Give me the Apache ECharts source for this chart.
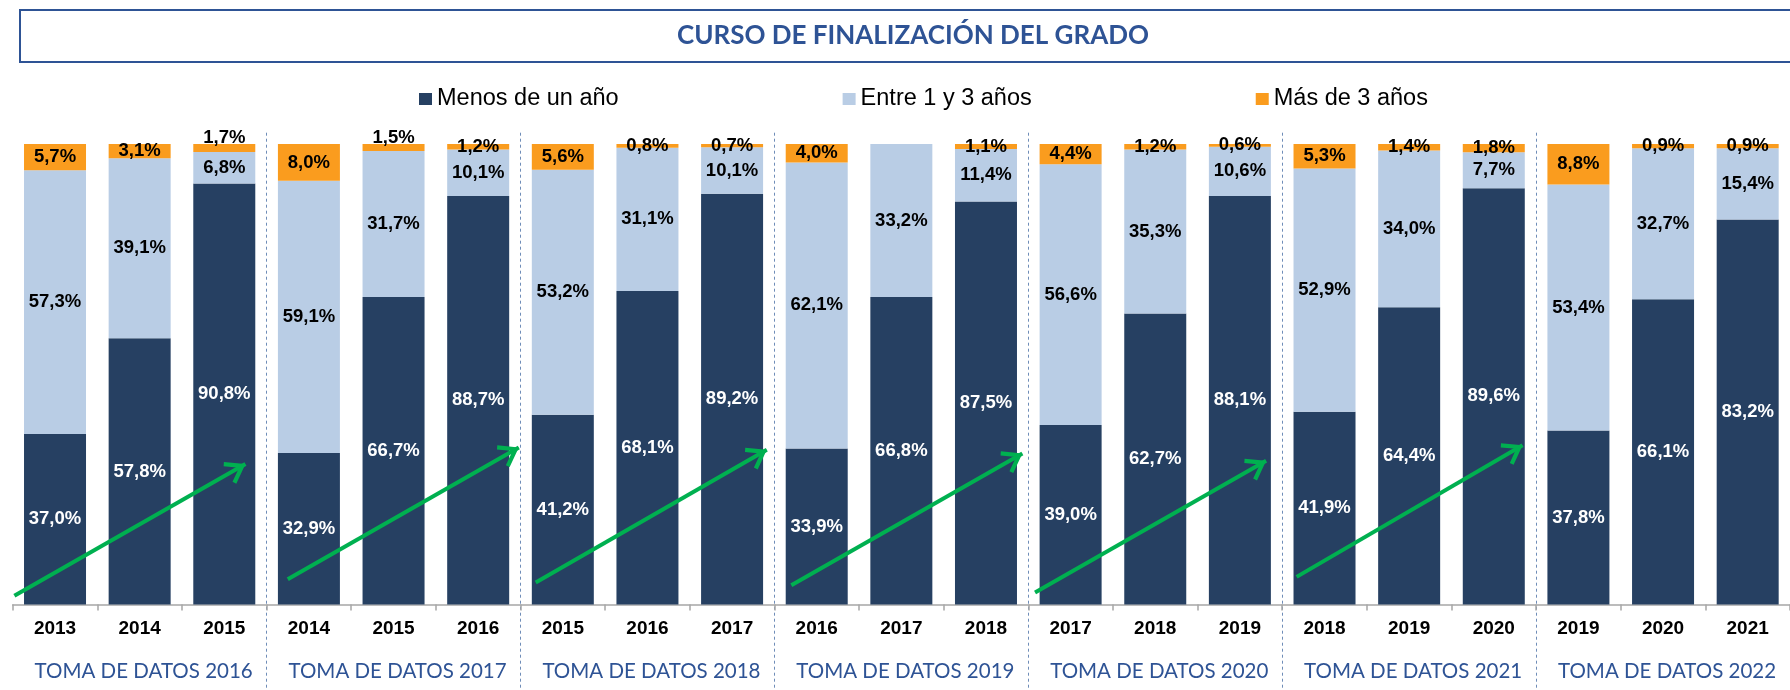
<!DOCTYPE html>
<html>
<head>
<meta charset="utf-8">
<script src="https://cdn.jsdelivr.net/npm/echarts@6/dist/echarts.min.js"></script>
<style>
html,body{margin:0;padding:0;background:#fff;}
#chart{width:1790px;height:690px;}
</style>
</head>
<body>
<div id="chart"></div>
<script>
const titleText = 'CURSO DE FINALIZACIÓN DEL GRADO';
const seriesNames = ['Menos de un año', 'Entre 1 y 3 años', 'Más de 3 años'];
const years = ['2013','2014','2015','2014','2015','2016','2015','2016','2017','2016','2017','2018','2017','2018','2019','2018','2019','2020','2019','2020','2021'];
const groups = ['TOMA DE DATOS 2016','TOMA DE DATOS 2017','TOMA DE DATOS 2018','TOMA DE DATOS 2019','TOMA DE DATOS 2020','TOMA DE DATOS 2021','TOMA DE DATOS 2022'];
const menos = [37.0,57.8,90.8,32.9,66.7,88.7,41.2,68.1,89.2,33.9,66.8,87.5,39.0,62.7,88.1,41.9,64.4,89.6,37.8,66.1,83.2];
const entre = [57.3,39.1,6.8,59.1,31.7,10.1,53.2,31.1,10.1,62.1,33.2,11.4,56.6,35.3,10.6,52.9,34.0,7.7,53.4,32.7,15.4];
const mas   = [5.7,3.1,1.7,8.0,1.5,1.2,5.6,0.8,0.7,4.0,0,1.1,4.4,1.2,0.6,5.3,1.4,1.8,8.8,0.9,0.9];
// trend arrows (x in category-boundary units, y in %)
const arrowTails = [[0.02,1.9],[3.25,5.5],[6.18,4.8],[9.20,4.2],[12.08,2.6],[15.17,6.0]];
const arrowTips  = [[2.75,30.5],[5.98,34.1],[8.91,33.6],[11.93,32.8],[14.81,31.2],[17.84,34.6]];
const raisedLabels = [2, 4];

const C_DARK = '#264062', C_LIGHT = '#B9CDE5', C_ORANGE = '#FA9C1E', C_BLUE = '#2E5395';
const GL = 12.7, GW = 21 * 85.15;

const totals = years.map((_, i) => menos[i] + entre[i] + mas[i]);
function build(arr, si) {
  return arr.map((v, i) => {
    const d = { value: v / totals[i] * 100, raw: v };
    if (si === 2 && raisedLabels.includes(i)) d.label = { offset: [0, -10] };
    return d;
  });
}
const fmt = p => p.data.raw === 0 ? '' : p.data.raw.toFixed(1).replace('.', ',') + '%';
const colors = [C_DARK, C_LIGHT, C_ORANGE];
const labelColors = ['#fff', '#000', '#000'];
const barSeries = [menos, entre, mas].map((arr, si) => ({
  name: seriesNames[si],
  type: 'bar',
  stack: 'total',
  xAxisIndex: 0, yAxisIndex: 0,
  barWidth: 62,
  itemStyle: { color: colors[si] },
  label: {
    show: true, position: 'inside', formatter: fmt,
    color: labelColors[si], fontFamily: 'Liberation Sans', fontWeight: 'bold', fontSize: 18.5
  },
  data: build(arr, si)
}));

const chevron = 'path://M10,0 L20,15 L17.2,17 L10,6.2 L2.8,17 L0,15 Z';

const option = {
  animation: false,
  backgroundColor: '#fff',
  color: colors,
  graphic: [
    { type: 'rect', shape: { x: 20, y: 10, width: 1800, height: 52 },
      style: { fill: 'none', stroke: C_BLUE, lineWidth: 2 } },
    { type: 'text', x: 913, y: 36,
      style: { text: titleText, align: 'center', verticalAlign: 'middle',
        font: 'bold 26px Lato', fill: C_BLUE } }
  ],
  legend: {
    left: 414, top: 82,
    icon: 'rect', itemWidth: 13, itemHeight: 12, itemGap: 224,
    textStyle: { fontFamily: 'Liberation Sans', fontSize: 23.5, color: '#000' },
    data: seriesNames
  },
  grid: [
    { left: GL, width: GW, top: 144, bottom: 85.5 },
    { left: GL, width: GW, top: 132.7, bottom: 0 }
  ],
  xAxis: [
    { type: 'category', gridIndex: 0, data: years, position: 'bottom',
      axisLine: { lineStyle: { color: '#A6A6A6', width: 1.5 } },
      axisTick: { show: true, length: 6, lineStyle: { color: '#A6A6A6', width: 1.5 } },
      axisLabel: { interval: 0, margin: 15, color: '#000', fontFamily: 'Liberation Sans', fontWeight: 'bold', fontSize: 19 },
      splitLine: { show: false } },
    { type: 'value', gridIndex: 0, min: 0, max: 21, show: false },
    { type: 'category', gridIndex: 1, data: groups,
      axisLine: { show: false }, axisTick: { show: false }, axisLabel: { show: false },
      splitLine: { show: true, interval: (i) => i > 0,
        lineStyle: { color: '#6F8DB8', width: 1, type: [3, 3] } } },
    { type: 'category', gridIndex: 0, data: groups, position: 'bottom', offset: 0,
      axisLine: { show: false }, axisTick: { show: false },
      axisLabel: { interval: 0, margin: 56, color: C_BLUE, fontFamily: 'Lato', fontSize: 20.5,
        padding: [0, 0, 0, 8] } }
  ],
  yAxis: [
    { type: 'value', gridIndex: 0, min: 0, max: 100, show: false },
    { type: 'value', gridIndex: 1, min: 0, max: 1, show: false }
  ],
  series: barSeries.concat([
    { type: 'line', xAxisIndex: 1, yAxisIndex: 0, data: [], silent: true,
      markLine: {
        silent: true, animation: false,
        symbol: ['none', chevron], symbolSize: [25, 20], symbolOffset: [0, [0, 10]],
        lineStyle: { color: '#00B050', width: 4, type: 'solid' },
        label: { show: false },
        emphasis: { disabled: true },
        data: arrowTails.map((t, i) => [{ coord: t }, { coord: arrowTips[i] }])
      } },
    { type: 'bar', xAxisIndex: 2, yAxisIndex: 1, data: [], silent: true }
  ])
};

const chart = echarts.init(document.getElementById('chart'), null, { renderer: 'canvas' });
chart.setOption(option);
</script>
</body>
</html>
